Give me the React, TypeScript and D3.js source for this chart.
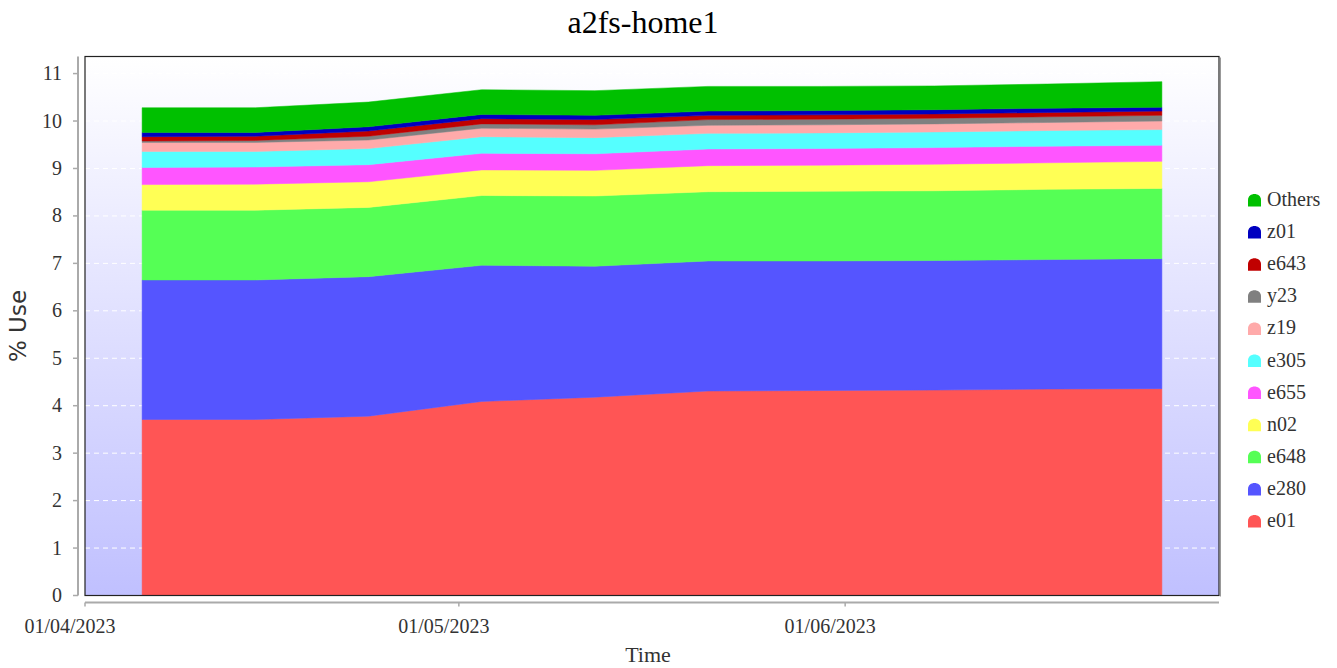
import React from "react";
import * as d3 from "d3";

const title = "a2fs-home1";
const yTitle = "% Use";
const xTitle = "Time";

const dates = [
  "2023-04-05T14:00",
  "2023-04-14T16:00",
  "2023-04-23T18:00",
  "2023-05-02T20:00",
  "2023-05-11T22:00",
  "2023-05-21T00:00",
  "2023-05-30T02:00",
  "2023-06-08T04:00",
  "2023-06-17T06:00",
  "2023-06-26T10:00",
];

const seriesNames = ["e01", "e280", "e648", "n02", "e655", "e305", "z19", "y23", "e643", "z01", "Others"];
const seriesColors = ["#ff5555", "#5555ff", "#55ff55", "#ffff55", "#ff55ff", "#55ffff", "#ffaaaa", "#808080", "#c00000", "#0000c0", "#00c000"];

const e01 = [3.71, 3.71, 3.78, 4.09, 4.18, 4.31, 4.32, 4.33, 4.35, 4.36];
const e280 = [2.94, 2.94, 2.94, 2.87, 2.76, 2.74, 2.73, 2.73, 2.73, 2.74];
const e648 = [1.47, 1.47, 1.46, 1.47, 1.48, 1.46, 1.47, 1.47, 1.48, 1.48];
const n02 = [0.54, 0.55, 0.54, 0.54, 0.54, 0.55, 0.55, 0.56, 0.56, 0.57];
const e655 = [0.36, 0.36, 0.36, 0.35, 0.35, 0.35, 0.35, 0.35, 0.35, 0.34];
const e305 = [0.34, 0.33, 0.34, 0.35, 0.34, 0.33, 0.33, 0.33, 0.33, 0.33];
const z19 = [0.19, 0.19, 0.18, 0.18, 0.18, 0.17, 0.17, 0.17, 0.17, 0.18];
const y23 = [0.03, 0.04, 0.08, 0.09, 0.09, 0.12, 0.12, 0.12, 0.12, 0.12];
const e643 = [0.09, 0.09, 0.11, 0.11, 0.11, 0.09, 0.09, 0.09, 0.09, 0.09];
const z01 = [0.09, 0.08, 0.09, 0.09, 0.09, 0.09, 0.09, 0.09, 0.09, 0.08];
const others = [0.52, 0.52, 0.52, 0.52, 0.52, 0.52, 0.51, 0.5, 0.51, 0.54];

const seriesValues = [e01, e280, e648, n02, e655, e305, z19, y23, e643, z01, others];

const yTicks = [0, 1, 2, 3, 4, 5, 6, 7, 8, 9, 10, 11];
const xTickDates = ["2023-04-01T00:00", "2023-05-01T00:00", "2023-06-01T00:00"];
const xDomain = ["2023-04-01T00:00", "2023-07-01T00:00"];
const yMax = 11.36;

const W = 1337;
const H = 668;
const plot = { left: 85, right: 1219, top: 56.5, bottom: 595.5 };

export default function App() {
  const parse = (s: string) => new Date(s);
  const x = d3.scaleTime().domain(xDomain.map(parse)).range([plot.left, plot.right]);
  const y = d3.scaleLinear().domain([0, yMax]).range([plot.bottom, plot.top]);

  const rows = dates.map((d, i) => {
    const r: any = { date: parse(d) };
    seriesNames.forEach((n, k) => (r[n] = seriesValues[k][i]));
    return r;
  });
  const stacked = d3.stack<any>().keys(seriesNames)(rows);
  const area = d3
    .area<any>()
    .x((d) => x(d.data.date))
    .y0((d) => y(d[0]))
    .y1((d) => y(d[1]))
    .curve(d3.curveLinear);

  const serif = "'Liberation Serif', 'Times New Roman', serif";
  const legendX = 1248;
  const legendY0 = 200;
  const legendStep = 32.1;
  const legendOrder = seriesNames.map((n, i) => i).reverse();

  const marker = "M0,13 L0,6.5 C0,-1.5 13,-1.5 13,6.5 L13,13 Z";

  return (
    <svg width={W} height={H} style={{ position: "absolute", left: 0, top: 0, background: "#fff" }}>
      <defs>
        <linearGradient id="bg" x1="0" y1="0" x2="0" y2="1">
          <stop offset="0%" stopColor="#ffffff" />
          <stop offset="100%" stopColor="#c0c0ff" />
        </linearGradient>
      </defs>
      <text x={643} y={33} textAnchor="middle" fontFamily={serif} fontSize={32} fill="#000">
        {title}
      </text>

      {/* plot background */}
      <rect x={plot.left} y={plot.top} width={plot.right - plot.left} height={plot.bottom - plot.top} fill="url(#bg)" />
      {yTicks.slice(1).map((t) => (
        <line
          key={"g" + t}
          x1={plot.left}
          x2={plot.right}
          y1={y(t)}
          y2={y(t)}
          stroke="#ffffff"
          strokeDasharray="5,4"
          strokeWidth={1}
        />
      ))}

      {stacked.map((s, i) => (
        <path key={s.key} d={area(s) || ""} fill={seriesColors[i]} stroke={seriesColors[i]} strokeWidth={0.5} />
      ))}

      {/* frame */}
      <line x1={plot.right + 1.5} x2={plot.right + 1.5} y1={plot.top + 1} y2={plot.bottom + 1} stroke="#999" strokeWidth={1} />
      <rect
        x={plot.left}
        y={plot.top}
        width={plot.right - plot.left}
        height={plot.bottom - plot.top}
        fill="none"
        stroke="#222"
        strokeWidth={1.2}
      />

      {/* y axis */}
      <line x1={78} x2={78} y1={plot.top} y2={plot.bottom} stroke="#aaa" strokeWidth={2} />
      {yTicks.map((t) => (
        <g key={"y" + t}>
          <line x1={73} x2={78} y1={y(t)} y2={y(t)} stroke="#aaa" strokeWidth={1.5} />
          <text x={62} y={y(t) + 6.5} textAnchor="end" fontFamily={serif} fontSize={20} fill="#333">
            {t}
          </text>
        </g>
      ))}
      <text
        transform={`translate(26,${(plot.top + plot.bottom) / 2}) rotate(-90)`}
        textAnchor="middle"
        fontFamily="'DejaVu Sans', sans-serif"
        fontSize={23}
        fill="#333"
      >
        {yTitle}
      </text>

      {/* x axis */}
      <line x1={plot.left} x2={plot.right} y1={602.5} y2={602.5} stroke="#aaa" strokeWidth={2} />
      {xTickDates.map((s) => {
        const xv = x(parse(s));
        return (
          <g key={s}>
            <line x1={xv} x2={xv} y1={602.5} y2={606.5} stroke="#aaa" strokeWidth={1.5} />
            <text x={xv - 15} y={633} textAnchor="middle" fontFamily={serif} fontSize={20} fill="#333">
              {d3.timeFormat("%d/%m/%Y")(parse(s))}
            </text>
          </g>
        );
      })}
      <text x={648} y={662} textAnchor="middle" fontFamily={serif} fontSize={22} fill="#333">
        {xTitle}
      </text>

      {/* legend */}
      {legendOrder.map((k, j) => {
        const ly = legendY0 + j * legendStep;
        return (
          <g key={"l" + k} transform={`translate(${legendX},${ly - 6.5})`}>
            <path d={marker} fill={seriesColors[k]} />
            <text x={19} y={12.5} fontFamily={serif} fontSize={20} fill="#333">
              {seriesNames[k]}
            </text>
          </g>
        );
      })}
    </svg>
  );
}
